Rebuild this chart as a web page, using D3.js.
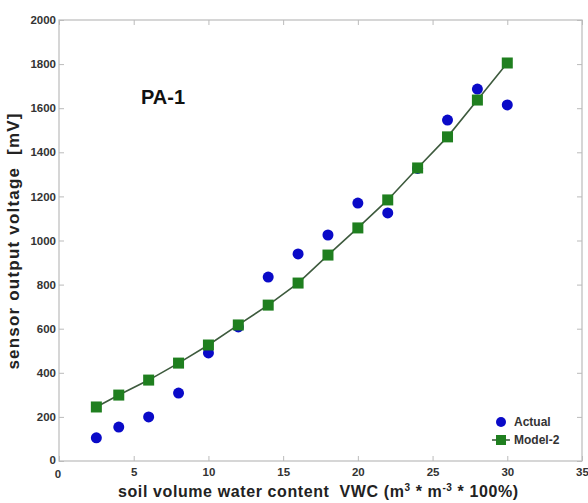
<!DOCTYPE html>
<html>
<head>
<meta charset="utf-8">
<script src="https://d3js.org/d3.v7.min.js"></script>
<style>
body{margin:0;background:#fff;}
text{font-family:"Liberation Sans",Arial,sans-serif;white-space:pre;}
</style>
</head>
<body>
<div class="chart"></div>
<script>
var vwc = [2.5, 4, 6, 8, 10, 12, 14, 16, 18, 20, 22, 24, 26, 28, 30];
var actual = [105, 154, 200, 308, 490, 608, 834, 939, 1025, 1170, 1125, 1327, 1546, 1687, 1615];
var model2 = [245, 299, 367, 444, 526, 617, 707, 807, 934, 1057, 1184, 1329, 1470, 1637, 1805];
var xticks = [0, 5, 10, 15, 20, 25, 30, 35];
var yticks = [0, 200, 400, 600, 800, 1000, 1200, 1400, 1600, 1800, 2000];

var width = 588, height = 503;
var pL = 59, pR = 582, pT = 20, pB = 461;

var svg = d3.select(".chart").append("svg")
    .attr("width", width).attr("height", height);

var x = d3.scaleLinear().domain([0, 35]).range([pL, pR]);
var y = d3.scaleLinear().domain([0, 2000]).range([pB, pT]);

// box
svg.append("rect")
  .attr("x", pL).attr("y", pT)
  .attr("width", pR - pL).attr("height", pB - pT)
  .attr("fill", "none").attr("stroke", "#bbb").attr("stroke-width", 1.2);

var xAxis = d3.axisBottom(x).tickValues(xticks).tickSize(-5).tickPadding(7)
  .tickFormat(function(d){ return d === 0 ? "" : d; });
svg.append("g").attr("transform", "translate(0," + pB + ")").call(xAxis);
var yAxis = d3.axisLeft(y).tickValues(yticks).tickSize(-5).tickPadding(3)
  .tickFormat(function(d){ return d === 0 ? "" : d; });
svg.append("g").attr("transform", "translate(" + pL + ",0)").call(yAxis);

// ticks on top and right
svg.append("g").attr("transform", "translate(0," + pT + ")")
  .call(d3.axisTop(x).tickValues(xticks).tickSize(-5).tickFormat(""));
svg.append("g").attr("transform", "translate(" + pR + ",0)")
  .call(d3.axisRight(y).tickValues(yticks).tickSize(-5).tickFormat(""));

svg.selectAll(".domain").remove();
svg.selectAll(".tick line").attr("stroke", "#bbb");
svg.selectAll(".tick text")
  .style("font-size", "11.5px").style("font-weight", "bold").attr("fill", "#333");

// the two zeros at the corner
svg.append("text").attr("x", pL - 1).attr("y", pB + 17)
  .attr("text-anchor", "middle").style("font-size", "11.5px").style("font-weight", "bold")
  .attr("fill", "#333").text("0");
svg.append("text").attr("x", pL - 3).attr("y", pB + 3)
  .attr("text-anchor", "end").style("font-size", "11.5px").style("font-weight", "bold")
  .attr("fill", "#333").text("0");

// axis labels
var xl = svg.append("text").attr("x", 118).attr("y", 497)
  .style("font-size", "16px").style("font-weight", "bold").style("letter-spacing", "0.6px")
  .attr("fill", "#222");
xl.append("tspan").text("soil volume water content  VWC (m");
xl.append("tspan").attr("dy", -6).style("font-size", "10px").text("3");
xl.append("tspan").attr("dy", 6).text(" * m");
xl.append("tspan").attr("dy", -6).style("font-size", "10px").text("-3");
xl.append("tspan").attr("dy", 6).text(" * 100%)");

svg.append("text")
  .attr("transform", "translate(19,241) rotate(-90)")
  .attr("text-anchor", "middle").style("font-size", "17px").style("font-weight", "bold")
  .style("letter-spacing", "1.2px")
  .attr("fill", "#222").text("sensor output voltage  [mV]");

// title inside
svg.append("text").attr("x", 141).attr("y", 104)
  .style("font-size", "20px").style("font-weight", "bold").attr("fill", "#111").text("PA-1");

// actual
svg.selectAll(".act").data(vwc).enter().append("circle")
  .attr("class", "act")
  .attr("cx", function(d){ return x(d); })
  .attr("cy", function(d, i){ return y(actual[i]); })
  .attr("r", 5.5).attr("fill", "#0a0ac8");

// model
var line = d3.line().x(function(d){ return x(d); }).y(function(d, i){ return y(model2[i]); });
svg.append("path").datum(vwc).attr("d", line)
  .attr("fill", "none").attr("stroke", "#3d5a3d").attr("stroke-width", 1.6);
svg.selectAll(".mod").data(vwc).enter().append("rect")
  .attr("class", "mod")
  .attr("x", function(d){ return x(d) - 5.5; })
  .attr("y", function(d, i){ return y(model2[i]) - 5.5; })
  .attr("width", 11).attr("height", 11).attr("fill", "#1f7f1f");

// legend
var lg = svg.append("g").attr("transform", "translate(501,0)");
lg.append("circle").attr("cx", 0).attr("cy", 422).attr("r", 5).attr("fill", "#0a0ac8");
lg.append("text").attr("x", 13).attr("y", 426)
  .style("font-size", "12px").style("font-weight", "bold").attr("fill", "#333").text("Actual");
lg.append("line").attr("x1", -9).attr("x2", 9).attr("y1", 440).attr("y2", 440)
  .attr("stroke", "#3d5a3d").attr("stroke-width", 1.6);
lg.append("rect").attr("x", -5).attr("y", 435).attr("width", 10).attr("height", 10)
  .attr("fill", "#1f7f1f");
lg.append("text").attr("x", 13).attr("y", 444)
  .style("font-size", "12px").style("font-weight", "bold").attr("fill", "#333").text("Model-2");
</script>
</body>
</html>
